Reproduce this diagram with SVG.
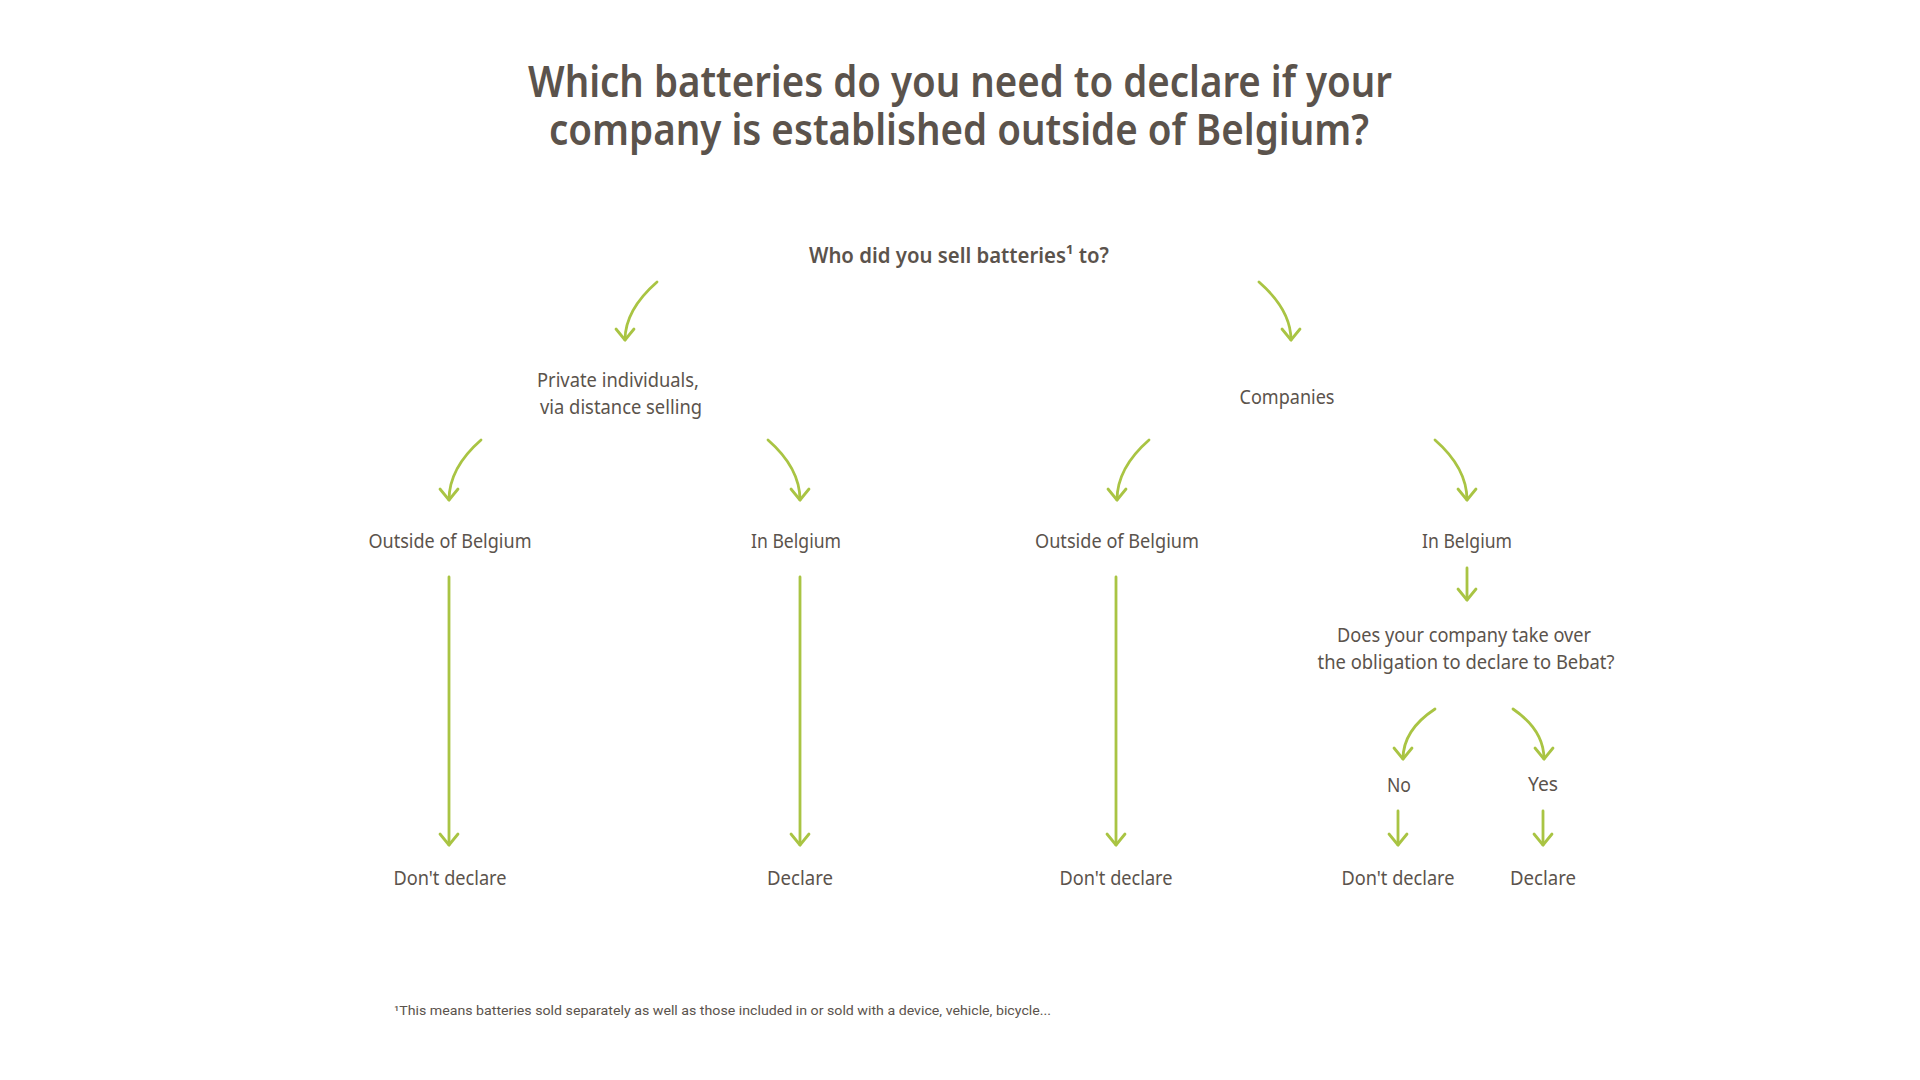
<svg xmlns="http://www.w3.org/2000/svg" width="1920" height="1080" viewBox="0 0 1920 1080">
<style>
  .t{font-family:"Noto Sans","Open Sans",sans-serif;fill:#5b534c;text-anchor:middle}
  .title{font-size:44px;font-weight:600}
  .q{font-size:21px;font-weight:600}
  .l{font-size:20px}
  .fn{font-family:Roboto,"Liberation Sans",sans-serif;font-size:13px;fill:#5b534c}
  .c path{fill:none;stroke:#a9c443;stroke-width:2.8;stroke-linecap:round;marker-end:url(#ah)}
</style>
<defs>
  <marker id="ah" markerUnits="userSpaceOnUse" markerWidth="30" markerHeight="30" refX="0" refY="0" viewBox="-15 -15 30 30" orient="auto" overflow="visible">
    <path d="M-11,-9 L0,0 L-11,9" fill="none" stroke="#a9c443" stroke-width="2.8" stroke-linecap="round" stroke-linejoin="round"/>
  </marker>
</defs>
<rect width="1920" height="1080" fill="#ffffff"/>
<g id="title">
  <text class="t title" x="960" y="97" textLength="864" lengthAdjust="spacingAndGlyphs">Which batteries do you need to declare if your</text>
  <text class="t title" x="959" y="145" textLength="820" lengthAdjust="spacingAndGlyphs">company is established outside of Belgium?</text>
</g>
<g id="q1"><text class="t q" x="959" y="263" textLength="300" lengthAdjust="spacingAndGlyphs">Who did you sell batteries¹ to?</text></g>
<g id="private">
  <text class="t l" x="618" y="387" textLength="162" lengthAdjust="spacingAndGlyphs">Private individuals,</text>
  <text class="t l" x="621" y="414" textLength="162" lengthAdjust="spacingAndGlyphs">via distance selling</text>
</g>
<g id="companies"><text class="t l" x="1287" y="404" textLength="95" lengthAdjust="spacingAndGlyphs">Companies</text></g>
<g id="p-outside"><text class="t l" x="450" y="548" textLength="163" lengthAdjust="spacingAndGlyphs">Outside of Belgium</text></g>
<g id="p-in"><text class="t l" x="796" y="548" textLength="90" lengthAdjust="spacingAndGlyphs">In Belgium</text></g>
<g id="c-outside"><text class="t l" x="1117" y="548" textLength="164" lengthAdjust="spacingAndGlyphs">Outside of Belgium</text></g>
<g id="c-in"><text class="t l" x="1467" y="548" textLength="90" lengthAdjust="spacingAndGlyphs">In Belgium</text></g>
<g id="q2">
  <text class="t l" x="1464" y="642" textLength="254" lengthAdjust="spacingAndGlyphs">Does your company take over</text>
  <text class="t l" x="1466" y="669" textLength="297" lengthAdjust="spacingAndGlyphs">the obligation to declare to Bebat?</text>
</g>
<g id="no"><text class="t l" x="1399" y="792" textLength="24" lengthAdjust="spacingAndGlyphs">No</text></g>
<g id="yes"><text class="t l" x="1543" y="791" textLength="30" lengthAdjust="spacingAndGlyphs">Yes</text></g>
<g id="r1"><text class="t l" x="450" y="885" textLength="113" lengthAdjust="spacingAndGlyphs">Don't declare</text></g>
<g id="r2"><text class="t l" x="800" y="885" textLength="66" lengthAdjust="spacingAndGlyphs">Declare</text></g>
<g id="r3"><text class="t l" x="1116" y="885" textLength="113" lengthAdjust="spacingAndGlyphs">Don't declare</text></g>
<g id="r4"><text class="t l" x="1398" y="885" textLength="113" lengthAdjust="spacingAndGlyphs">Don't declare</text></g>
<g id="r5"><text class="t l" x="1543" y="885" textLength="66" lengthAdjust="spacingAndGlyphs">Declare</text></g>
<g id="footnote"><text class="fn" x="394" y="1015" textLength="657" lengthAdjust="spacingAndGlyphs">¹This means batteries sold separately as well as those included in or sold with a device, vehicle, bicycle...</text></g>
<g id="connectors" class="c">
  <path d="M657,282 Q625,310 625,340"/>
  <path d="M1259,282 Q1291,310 1291,340"/>
  <path d="M481,440 Q449,468 449,500"/>
  <path d="M768,440 Q800,468 800,500"/>
  <path d="M1149,440 Q1117,468 1117,500"/>
  <path d="M1435,440 Q1467,468 1467,500"/>
  <path d="M449,577 L449,845"/>
  <path d="M800,577 L800,845"/>
  <path d="M1116,577 L1116,845"/>
  <path d="M1467,568 L1467,600"/>
  <path d="M1435,709 Q1403,730 1403,759"/>
  <path d="M1513,709 Q1544,730 1544,759"/>
  <path d="M1398,811 L1398,845"/>
  <path d="M1543,811 L1543,845"/>
</g>
</svg>
